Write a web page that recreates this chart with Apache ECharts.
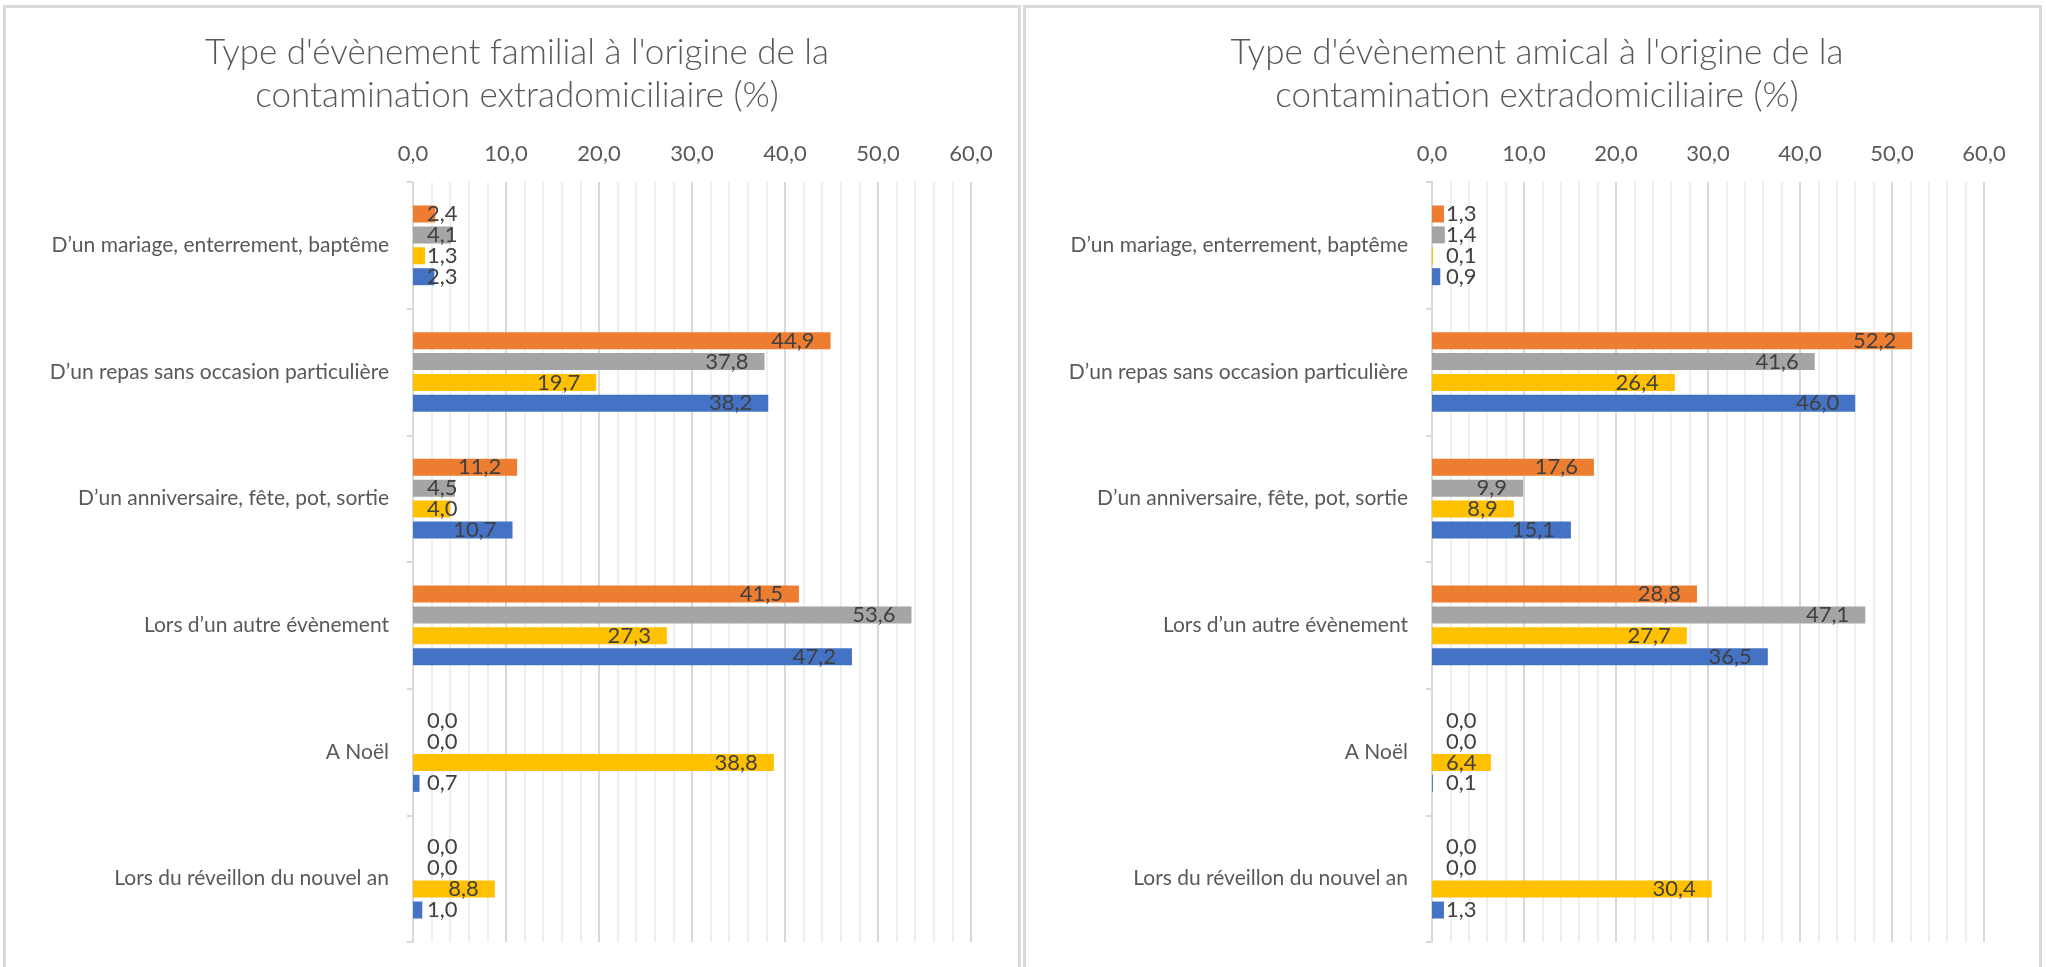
<!DOCTYPE html>
<html>
<head>
<meta charset="utf-8">
<script src="https://cdn.jsdelivr.net/npm/echarts@6/dist/echarts.min.js"></script>
<style>
  html, body { margin: 0; padding: 0; background: #ffffff; }
  #chart { width: 2046px; height: 967px; }
</style>
</head>
<body>
<div id="chart"></div>
<script>
// ---- Data ----
const categories = [
  "D’un mariage, enterrement, baptême",
  "D’un repas sans occasion particulière",
  "D’un anniversaire, fête, pot, sortie",
  "Lors d’un autre évènement",
  "A Noël",
  "Lors du réveillon du nouvel an"
];
const xTicks = [0, 10, 20, 30, 40, 50, 60];

const titleFamilial = "Type d'évènement familial à l'origine de la\ncontamination extradomiciliaire (%)";
const titleAmical = "Type d'évènement amical à l'origine de la\ncontamination extradomiciliaire (%)";

// Familial (left panel), series in drawing order top -> bottom within a category
const famOrange = [2.4, 44.9, 11.2, 41.5, 0.0, 0.0];
const famGray   = [4.1, 37.8, 4.5, 53.6, 0.0, 0.0];
const famYellow = [1.3, 19.7, 4.0, 27.3, 38.8, 8.8];
const famBlue   = [2.3, 38.2, 10.7, 47.2, 0.7, 1.0];

// Amical (right panel)
const amiOrange = [1.3, 52.2, 17.6, 28.8, 0.0, 0.0];
const amiGray   = [1.4, 41.6, 9.9, 47.1, 0.0, 0.0];
const amiYellow = [0.1, 26.4, 8.9, 27.7, 6.4, 30.4];
const amiBlue   = [0.9, 46.0, 15.1, 36.5, 0.1, 1.3];

const seriesNames = ["Série 4", "Série 3", "Série 2", "Série 1"];
const seriesColors = ["#ED7D31", "#A5A5A5", "#FFC000", "#4472C4"];

// ---- Chart ----
const FONT = "Lato, 'Open Sans', 'DejaVu Sans', sans-serif";
const fmt = v => Number(v).toFixed(1).replace('.', ',');

function makeData(arr) {
  return arr.map(v => {
    if (v < 6.5) {
      return { value: v, label: { position: [14, '50%'], align: 'left', verticalAlign: 'middle' } };
    }
    return { value: v };
  });
}

function makeSeries(arr, i, gridIdx) {
  return {
    name: seriesNames[i],
    type: 'bar',
    xAxisIndex: gridIdx,
    yAxisIndex: gridIdx,
    barWidth: 17,
    barGap: '23%',
    itemStyle: { color: seriesColors[i] },
    label: {
      show: true,
      position: 'insideRight',
      distance: 16,
      formatter: p => fmt(p.value),
      color: '#404040',
      fontSize: 22,
      fontFamily: FONT
    },
    data: makeData(arr)
  };
}

function xAxisCfg(gridIdx) {
  return {
    type: 'value',
    gridIndex: gridIdx,
    position: 'top',
    min: xTicks[0],
    max: xTicks[xTicks.length - 1],
    interval: xTicks[1] - xTicks[0],
    axisLine: { show: false },
    axisTick: { show: false },
    axisLabel: {
      formatter: v => fmt(v),
      color: '#595959',
      fontSize: 22,
      fontFamily: FONT,
      margin: 17
    },
    splitLine: { show: true, lineStyle: { color: '#d9d9d9', width: 2 } },
    minorTick: { show: false, splitNumber: 5 },
    minorSplitLine: { show: true, lineStyle: { color: '#efefef', width: 2 } }
  };
}

function yAxisCfg(gridIdx) {
  return {
    type: 'category',
    gridIndex: gridIdx,
    inverse: true,
    data: categories,
    axisLine: { show: true, lineStyle: { color: '#d9d9d9', width: 2 } },
    axisTick: { show: true, length: 6, lineStyle: { color: '#d9d9d9', width: 2 } },
    axisLabel: {
      color: '#595959',
      fontSize: 21,
      fontFamily: FONT,
      margin: 24
    }
  };
}

const titleStyle = { color: '#595959', fontSize: 35, fontWeight: 300, fontFamily: FONT, lineHeight: 43 };

const option = {
  backgroundColor: '#ffffff',
  animation: false,
  title: [
    { text: titleFamilial, left: 512, top: 26, textAlign: 'center', textStyle: titleStyle },
    { text: titleAmical, left: 1532, top: 26, textAlign: 'center', textStyle: titleStyle }
  ],
  graphic: [
    { type: 'rect', z: -10, shape: { x: 4.5, y: 6.5, width: 1015, height: 990 },
      style: { fill: 'none', stroke: '#d9d9d9', lineWidth: 3 } },
    { type: 'rect', z: -10, shape: { x: 1024.5, y: 6.5, width: 1016, height: 990 },
      style: { fill: 'none', stroke: '#d9d9d9', lineWidth: 3 } }
  ],
  grid: [
    { left: 413, top: 182, width: 558, height: 760 },
    { left: 1432, top: 182, width: 552, height: 760 }
  ],
  xAxis: [xAxisCfg(0), xAxisCfg(1)],
  yAxis: [yAxisCfg(0), yAxisCfg(1)],
  series: [
    makeSeries(famOrange, 0, 0),
    makeSeries(famGray, 1, 0),
    makeSeries(famYellow, 2, 0),
    makeSeries(famBlue, 3, 0),
    makeSeries(amiOrange, 0, 1),
    makeSeries(amiGray, 1, 1),
    makeSeries(amiYellow, 2, 1),
    makeSeries(amiBlue, 3, 1)
  ]
};

const chart = echarts.init(document.getElementById('chart'), null, { renderer: 'canvas' });
chart.setOption(option);
</script>
</body>
</html>
